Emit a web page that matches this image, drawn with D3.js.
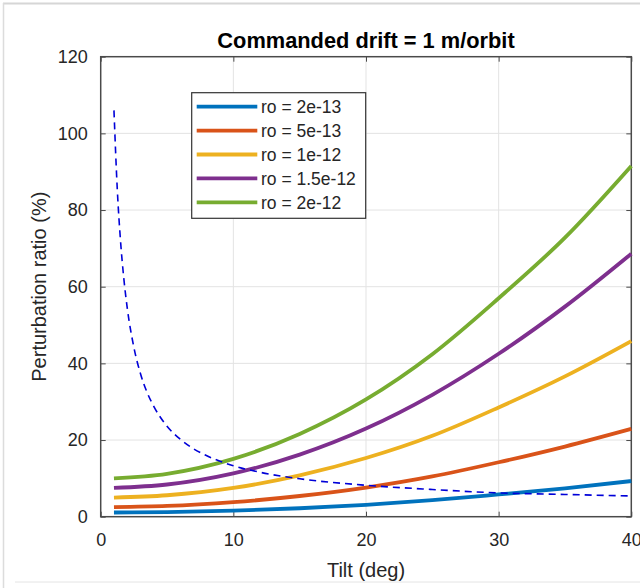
<!DOCTYPE html>
<html lang="en">
<head>
    <meta charset="UTF-8">
    <title>Commanded drift</title>
    <style>
      body { margin: 0; background: #fff; }
      svg { display: block; font-family: "Liberation Sans", Arial, Helvetica, sans-serif; }
    </style>
</head>
<body>
    <svg></svg>

    <script src="https://cdnjs.cloudflare.com/ajax/libs/d3/7.8.5/d3.min.js"></script>
    <script>
// values
const tilt = [1, 5, 10, 15, 20, 25, 30, 35, 40];
const seriesNames = ['ro = 2e-13', 'ro = 5e-13', 'ro = 1e-12', 'ro = 1.5e-12', 'ro = 2e-12'];
const ro2e13 = [1.1, 1.2, 1.6, 2.2, 3.1, 4.3, 5.8, 7.4, 9.3];
const ro5e13 = [2.5, 2.8, 3.8, 5.4, 7.6, 10.5, 14.2, 18.3, 22.9];
const ro1e12 = [5.0, 5.6, 7.5, 10.8, 15.3, 21.1, 28.5, 36.6, 45.8];
const ro15e12 = [7.5, 8.4, 11.3, 16.2, 23.0, 31.8, 42.5, 54.8, 68.6];
const ro2e12 = [10.0, 11.2, 15.1, 21.6, 30.6, 42.4, 57.0, 72.8, 91.5];
const dashTilt = [1, 1.25, 1.5, 1.75, 2, 2.5, 3, 3.5, 4, 5, 6, 7, 8, 10, 12, 15, 20, 25, 30, 35, 40];
const dashValues = [106, 85.4, 71.7, 61.9, 54.5, 44.2, 37.3, 32.4, 28.8, 23.6, 20.2, 17.7, 15.9, 13.3, 11.6, 9.9, 8.2, 7.1, 6.2, 5.8, 5.4];
const xTicks = [0, 10, 20, 30, 40];
const yTicks = [0, 20, 40, 60, 80, 100, 120];

const colors = ['#0072bd', '#d95319', '#edb120', '#7e2f8e', '#77ac30'];
const allSeries = [ro2e13, ro5e13, ro1e12, ro15e12, ro2e12];

const width = 640;
const height = 588;
const pLeft = 100.7, pRight = 631.3, pTop = 56.7, pBottom = 516.7;

const svg = d3.select('svg').
attr('width', width).
attr('height', height);

svg.append('rect').attr('width', width).attr('height', height).attr('fill', '#fff');

// screenshot frame
svg.append('line').attr('x1', 3).attr('x2', 640).attr('y1', 3.5).attr('y2', 3.5).
attr('stroke', '#d6d6d6').attr('stroke-width', 2);
svg.append('line').attr('x1', 3.5).attr('x2', 3.5).attr('y1', 3).attr('y2', 588).
attr('stroke', '#dcdcdc').attr('stroke-width', 1.5);
svg.append('line').attr('x1', 15).attr('x2', 640).attr('y1', 582).attr('y2', 582).
attr('stroke', '#e4e4e4').attr('stroke-width', 1);

const x = d3.scaleLinear().domain([0, 40]).range([pLeft, pRight]);
const y = d3.scaleLinear().domain([0, 120]).range([pBottom, pTop]);

// grid
svg.append('g').selectAll('line').data(xTicks.slice(1, -1)).join('line').
attr('x1', d => x(d)).attr('x2', d => x(d)).attr('y1', pTop).attr('y2', pBottom).
attr('stroke', '#e3e3e3').attr('stroke-width', 1);
svg.append('g').selectAll('line').data(yTicks.slice(1, -1)).join('line').
attr('x1', pLeft).attr('x2', pRight).attr('y1', d => y(d)).attr('y2', d => y(d)).
attr('stroke', '#e3e3e3').attr('stroke-width', 1);

// axes with inward ticks on all four sides
const axisColor = '#4a4a4a';
const styleAxis = g => {
  g.select('.domain').remove();
  g.selectAll('.tick line').attr('stroke', axisColor);
  g.selectAll('.tick text').attr('fill', '#262626').attr('font-size', 18).
  attr('font-family', '"Liberation Sans", Arial, sans-serif');
};

svg.append('g').attr('transform', `translate(0,${pBottom})`).
call(d3.axisBottom(x).tickValues(xTicks).tickSizeInner(-5).tickSizeOuter(0).tickPadding(17)).
call(styleAxis);
svg.append('g').attr('transform', `translate(0,${pTop})`).
call(d3.axisTop(x).tickValues(xTicks).tickSizeInner(-5).tickSizeOuter(0).tickFormat('')).
call(styleAxis);
svg.append('g').attr('transform', `translate(${pLeft},0)`).
call(d3.axisLeft(y).tickValues(yTicks).tickSizeInner(-5).tickSizeOuter(0).tickPadding(13)).
call(styleAxis);
svg.append('g').attr('transform', `translate(${pRight},0)`).
call(d3.axisRight(y).tickValues(yTicks).tickSizeInner(-5).tickSizeOuter(0).tickFormat('')).
call(styleAxis);

svg.append('rect').attr('x', pLeft).attr('y', pTop).
attr('width', pRight - pLeft).attr('height', pBottom - pTop).
attr('fill', 'none').attr('stroke', axisColor).attr('stroke-width', 1.5);

// curves
const line = d3.line().
x(d => x(d[0])).
y(d => y(d[1])).
curve(d3.curveMonotoneX);

allSeries.forEach((vals, i) => {
  svg.append('path').
  datum(tilt.map((t, j) => [t, vals[j]])).
  attr('d', line).
  attr('fill', 'none').
  attr('stroke', colors[i]).
  attr('stroke-width', 3.8);
});

svg.append('path').
datum(dashTilt.map((t, j) => [t, dashValues[j]])).
attr('d', line).
attr('fill', 'none').
attr('stroke', '#0000d8').
attr('stroke-width', 1.6).
attr('stroke-dasharray', '7,5');

// legend
const lg = svg.append('g');
lg.append('rect').attr('x', 191.7).attr('y', 92.7).attr('width', 174).attr('height', 125.6).
attr('fill', '#fff').attr('stroke', '#333').attr('stroke-width', 1.2);
seriesNames.forEach((name, i) => {
  const ly = 106.7 + i * 23.9;
  lg.append('line').attr('x1', 196.7).attr('x2', 257.3).attr('y1', ly).attr('y2', ly).
  attr('stroke', colors[i]).attr('stroke-width', 3.8);
  lg.append('text').attr('x', 261).attr('y', ly).attr('dy', '0.36em').
  attr('font-size', 17.5).attr('fill', '#262626').text(name);
});

// labels
svg.append('text').attr('x', (pLeft + pRight) / 2).attr('y', 48).
attr('text-anchor', 'middle').attr('font-size', 21.8).attr('font-weight', 'bold').
attr('fill', '#000').text('Commanded drift = 1 m/orbit');

svg.append('text').attr('x', (pLeft + pRight) / 2).attr('y', 577).
attr('text-anchor', 'middle').attr('font-size', 20).attr('fill', '#262626').
text('Tilt (deg)');

svg.append('text').
attr('transform', `translate(46,${(pTop + pBottom) / 2}) rotate(-90)`).
attr('text-anchor', 'middle').attr('font-size', 20).attr('fill', '#262626').
text('Perturbation ratio (%)');
    </script>
</body>
</html>
